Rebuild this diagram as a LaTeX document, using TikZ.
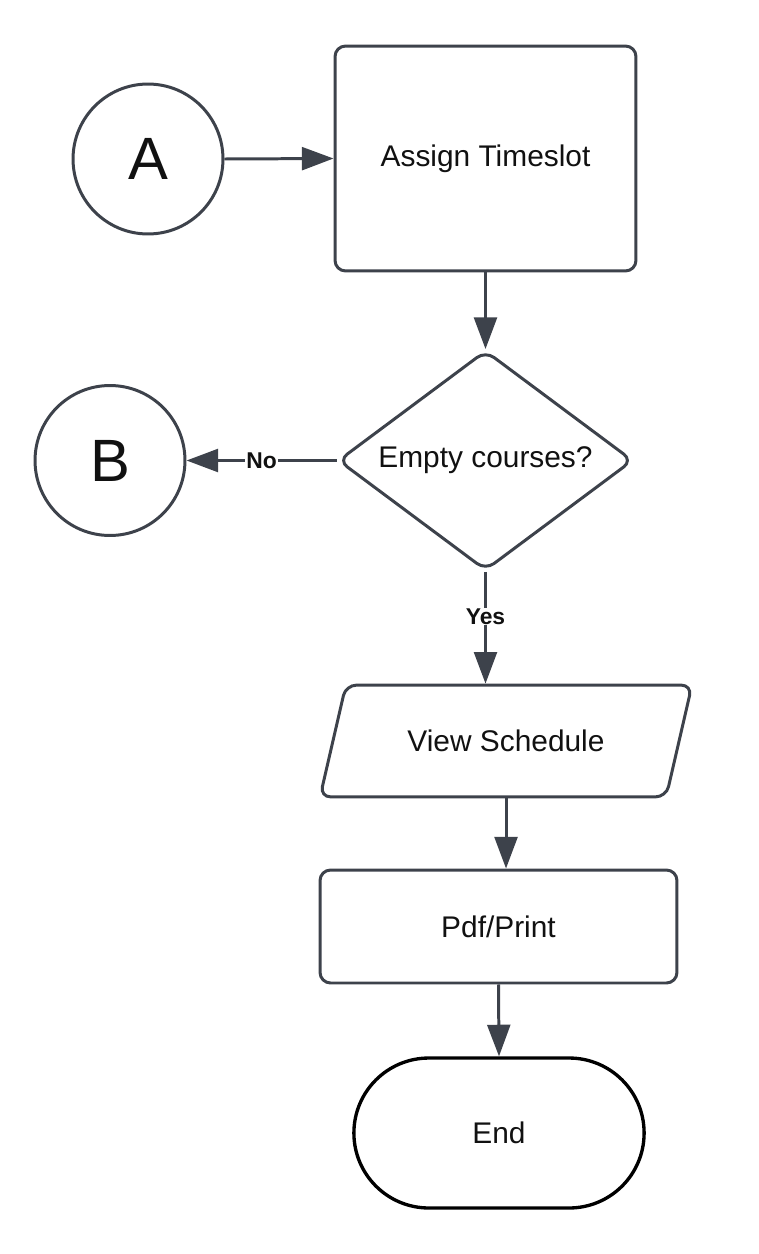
\documentclass[tikz,border=0pt]{standalone}
\usepackage{fontspec}
\setmainfont{Liberation Sans}
\usepackage{xcolor}
\usepackage{tikz}
\usetikzlibrary{arrows.meta,positioning,shapes.geometric,shapes.misc}
\definecolor{cLine}{HTML}{3D424B}
\definecolor{cText}{HTML}{111111}
\tikzset{
  arrow/.style  ={-{Triangle[length=18pt,width=13pt]}, line width=1.7pt, draw=cLine},
  conn/.style   ={draw=cLine, circle, line width=1.7pt, minimum size=3cm, inner sep=0pt, font=\fontsize{34}{38}\selectfont, text=cText},
  proc/.style   ={draw=cLine, rectangle, rounded corners=6pt, line width=1.7pt, font=\fontsize{17}{20}\selectfont, text=cText},
  decision/.style={draw=cLine, diamond, aspect=1.336, rounded corners=6pt, line width=1.7pt, inner sep=0pt, font=\fontsize{17}{20}\selectfont, text=cText},
  io/.style     ={draw=cLine, trapezium, trapezium left angle=77, trapezium right angle=103, trapezium stretches body=true,
                  text height=12pt, text depth=0pt, inner ysep=25.8pt, rounded corners=6pt, line width=1.7pt, font=\fontsize{17}{20}\selectfont, text=cText},
  term/.style   ={draw=black, rounded rectangle, line width=1.9pt, font=\fontsize{17}{20}\selectfont, text=cText},
  lbl/.style    ={fill=white, inner sep=0.5pt, font=\bfseries\fontsize{13}{15}\selectfont, text=cText},
}
\begin{document}
\begin{tikzpicture}[x=0.02cm,y=-0.02cm]
  \useasboundingbox (0,0) rectangle (759,1254);
  % nodes
  \node[conn] (conA) at (148,159) {A};
  \node[proc, minimum width=6.02cm, minimum height=4.5cm] (assign) at (485.5,158.5) {Assign Timeslot};
  \node[decision, minimum width=5.9cm, minimum height=4.4cm] (empty) at (485.5,460.5) {Empty courses?};
  \node[conn] (conB) at (110,460.5) {B};
  \node[io, minimum width=7.44cm] (view) at (506,741) {View Schedule};
  \node[proc, minimum width=7.14cm, minimum height=2.26cm] (pdf) at (498.5,926.5) {Pdf/Print};
  \node[term, minimum width=6.04cm, minimum height=3cm] (end) at (499,1133) {End};
  % connectors
  \draw[arrow] (conA.east) -- (assign.west);
  \draw[arrow] (assign.south) -- (empty.north);
  \draw[arrow] (empty.west) -- node[lbl]{No} (conB.east);
  \draw[arrow] (empty.south) -- node[lbl, pos=0.4]{Yes} (empty.south |- view.north);
  \draw[arrow] (view.south) -- (view.south |- pdf.north);
  \draw[arrow] (pdf.south) -- (end.north);
\end{tikzpicture}
\end{document}
